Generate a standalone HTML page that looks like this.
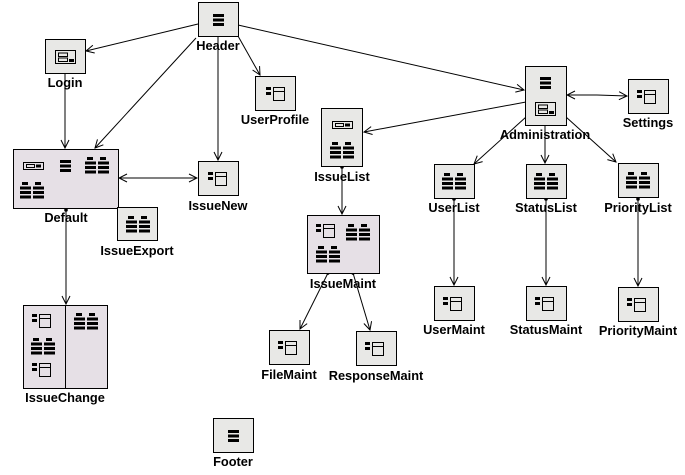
<!DOCTYPE html>
<html><head><meta charset="utf-8"><style>
html,body{margin:0;padding:0;background:#fff;}
svg{display:block}
text{font-family:"Liberation Sans",sans-serif;font-weight:bold;font-size:12.8px;fill:#000;text-anchor:middle}
</style></head><body>
<svg width="685" height="475" viewBox="0 0 685 475" xmlns="http://www.w3.org/2000/svg">
<defs>
<g id="list"><rect x="0" y="0" width="11" height="3"/><rect x="0" y="4.5" width="11" height="3"/><rect x="0" y="9" width="11" height="3"/></g>
<g id="grid"><rect x="2" y="0" width="6" height="3"/><rect x="15" y="0" width="6" height="3"/>
<rect x="0" y="4.5" width="11" height="3"/><rect x="13" y="4.5" width="11" height="3"/>
<rect x="0" y="9" width="11" height="3"/><rect x="13" y="9" width="11" height="3"/>
<rect x="0" y="13.5" width="11" height="3"/><rect x="13" y="13.5" width="11" height="3"/></g>
<g id="panel"><rect x="0" y="0" width="5" height="3"/><rect x="0" y="5" width="5" height="3"/>
<rect x="7.5" y="0.5" width="11" height="13" fill="none" stroke="#000"/><line x1="7.5" y1="4.5" x2="18.5" y2="4.5" stroke="#000"/></g>
<g id="login"><rect x="0.5" y="0.5" width="20" height="13" fill="none" stroke="#000"/><rect x="3.5" y="3" width="9" height="3.5" fill="none" stroke="#000"/><rect x="3.5" y="8" width="9" height="3.5" fill="none" stroke="#000"/><rect x="14" y="9" width="5" height="3"/></g>
<g id="search"><rect x="0.5" y="0.5" width="20" height="7" fill="none" stroke="#000"/><rect x="3.5" y="2.5" width="8" height="3" fill="none" stroke="#000"/><rect x="13" y="2.5" width="5" height="3"/></g>
<marker id="a" markerWidth="10" markerHeight="10" refX="9" refY="5" orient="auto" markerUnits="userSpaceOnUse"><path d="M1,1 L9,5 L1,9" fill="none" stroke="#000" stroke-width="1"/></marker>
<marker id="s" markerWidth="6" markerHeight="6" refX="3" refY="3" orient="auto" markerUnits="userSpaceOnUse"><circle cx="3" cy="3" r="1.8"/></marker>
</defs>
<g fill="#000">
<g stroke="#000" stroke-width="1" fill="none">
<line x1="198" y1="24" x2="86" y2="51" marker-end="url(#a)"/>
<line x1="196" y1="38" x2="95" y2="148" marker-end="url(#a)"/>
<line x1="218" y1="36" x2="218" y2="160" marker-end="url(#a)"/>
<line x1="238" y1="36" x2="260" y2="75" marker-end="url(#a)"/>
<line x1="238" y1="25" x2="524" y2="90" marker-end="url(#a)"/>
<line x1="65" y1="73" x2="65" y2="148" marker-end="url(#a)"/>
<line x1="158" y1="178" x2="119" y2="178" marker-end="url(#a)"/>
<line x1="158" y1="178" x2="197" y2="178" marker-end="url(#a)"/>
<line x1="66" y1="210" x2="66" y2="304" marker-end="url(#a)" marker-start="url(#s)"/>
<line x1="526" y1="102" x2="364" y2="132" marker-end="url(#a)"/>
<line x1="597" y1="95" x2="567" y2="95" marker-end="url(#a)"/>
<line x1="597" y1="95" x2="627" y2="96" marker-end="url(#a)"/>
<line x1="526" y1="117" x2="474" y2="164" marker-end="url(#a)"/>
<line x1="545" y1="125" x2="545" y2="163" marker-end="url(#a)"/>
<line x1="566" y1="117" x2="616" y2="162" marker-end="url(#a)"/>
<line x1="342" y1="167" x2="342" y2="214" marker-end="url(#a)" marker-start="url(#s)"/>
<line x1="454" y1="199" x2="454" y2="285" marker-end="url(#a)" marker-start="url(#s)"/>
<line x1="546" y1="199" x2="546" y2="285" marker-end="url(#a)" marker-start="url(#s)"/>
<line x1="638" y1="199" x2="638" y2="286" marker-end="url(#a)" marker-start="url(#s)"/>
<line x1="328" y1="273" x2="300" y2="329" marker-end="url(#a)" marker-start="url(#s)"/>
<line x1="353" y1="273" x2="370" y2="330" marker-end="url(#a)" marker-start="url(#s)"/>
</g>
<g stroke="#000" stroke-width="1">
<rect x="198.5" y="2.5" width="40" height="34" fill="#e8e8e6"/>
<rect x="45.5" y="39.5" width="40" height="34" fill="#e8e8e6"/>
<rect x="255.5" y="76.5" width="40" height="34" fill="#e8e8e6"/>
<rect x="13.5" y="149.5" width="105" height="59" fill="#e6e0e6"/>
<rect x="117.5" y="207.5" width="40" height="33" fill="#e8e8e6"/>
<rect x="198.5" y="161.5" width="40" height="34" fill="#e8e8e6"/>
<rect x="23.5" y="305.5" width="84" height="83" fill="#e6e0e6"/>
<line x1="65.5" y1="305.5" x2="65.5" y2="388.5"/>
<rect x="321.5" y="108.5" width="41" height="58" fill="#e8e8e6"/>
<rect x="307.5" y="215.5" width="72" height="58" fill="#e6e0e6"/>
<rect x="269.5" y="330.5" width="40" height="34" fill="#e8e8e6"/>
<rect x="356.5" y="331.5" width="40" height="34" fill="#e8e8e6"/>
<rect x="525.5" y="66.5" width="41" height="59" fill="#e8e8e6"/>
<rect x="628.5" y="79.5" width="40" height="34" fill="#e8e8e6"/>
<rect x="434.5" y="164.5" width="40" height="34" fill="#e8e8e6"/>
<rect x="526.5" y="164.5" width="40" height="34" fill="#e8e8e6"/>
<rect x="618.5" y="163.5" width="40" height="34" fill="#e8e8e6"/>
<rect x="434.5" y="286.5" width="40" height="34" fill="#e8e8e6"/>
<rect x="526.5" y="286.5" width="40" height="34" fill="#e8e8e6"/>
<rect x="618.5" y="287.5" width="40" height="34" fill="#e8e8e6"/>
<rect x="213.5" y="418.5" width="40" height="34" fill="#e8e8e6"/>
</g>
<use href="#list" x="213" y="14"/>
<use href="#login" x="55" y="50"/>
<use href="#panel" x="266" y="87"/>
<use href="#search" x="23" y="162"/>
<use href="#list" x="60" y="160"/>
<use href="#grid" x="85" y="157"/>
<use href="#grid" x="20" y="182"/>
<use href="#grid" x="126" y="216"/>
<use href="#panel" x="208" y="172"/>
<use href="#panel" x="32" y="314"/>
<use href="#grid" x="74" y="313"/>
<use href="#grid" x="31" y="338"/>
<use href="#panel" x="32" y="363"/>
<use href="#search" x="332" y="121"/>
<use href="#grid" x="330" y="142"/>
<use href="#panel" x="316" y="224"/>
<use href="#grid" x="346" y="224"/>
<use href="#grid" x="316" y="246"/>
<use href="#panel" x="278" y="341"/>
<use href="#panel" x="365" y="342"/>
<use href="#list" x="540" y="77"/>
<use href="#login" x="535" y="102"/>
<use href="#panel" x="637" y="90"/>
<use href="#grid" x="442" y="173"/>
<use href="#grid" x="534" y="173"/>
<use href="#grid" x="626" y="172"/>
<use href="#panel" x="443" y="297"/>
<use href="#panel" x="535" y="297"/>
<use href="#panel" x="627" y="298"/>
<use href="#list" x="228" y="430"/>
</g>
<text x="218" y="50">Header</text>
<text x="65" y="87">Login</text>
<text x="275" y="124">UserProfile</text>
<text x="66" y="222">Default</text>
<text x="137" y="255">IssueExport</text>
<text x="218" y="210">IssueNew</text>
<text x="65" y="402">IssueChange</text>
<text x="342" y="181">IssueList</text>
<text x="343" y="288">IssueMaint</text>
<text x="289" y="379">FileMaint</text>
<text x="376" y="380">ResponseMaint</text>
<text x="545" y="139">Administration</text>
<text x="648" y="127">Settings</text>
<text x="454" y="212">UserList</text>
<text x="546" y="212">StatusList</text>
<text x="638" y="212">PriorityList</text>
<text x="454" y="334">UserMaint</text>
<text x="546" y="334">StatusMaint</text>
<text x="638" y="335">PriorityMaint</text>
<text x="233" y="466">Footer</text>
</svg>
</body></html>
